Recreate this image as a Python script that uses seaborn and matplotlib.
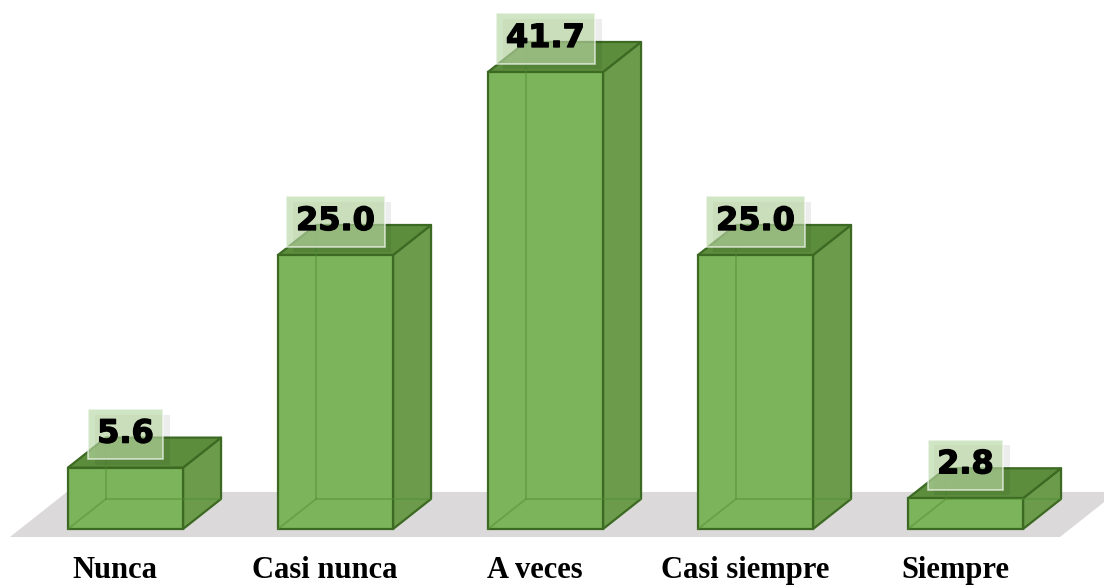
import matplotlib
matplotlib.use("Agg")
import matplotlib.pyplot as plt
import matplotlib.transforms as mtransforms
import matplotlib.patheffects as pe
import seaborn as sns
import pandas as pd

# Survey answer frequencies (%)
categories = ["Nunca", "Casi nunca", "A veces", "Casi siempre", "Siempre"]
values = [5.6, 25.0, 41.7, 25.0, 2.8]

FRONT = "#7bb45a"
TOP = "#5c8d3c"
SIDE = "#6b9b4b"
EDGE = "#3d6a23"
FLOOR = "#dbd9da"
LABEL_BOX = "#b8d7a3"

BAR_W = 0.548
DX, DY = 0.181, 2.74  # depth of each box (x in category units, y in %)

sns.set_theme(style="white")
plt.rcParams["font.family"] = ["DejaVu Sans"]

fig = plt.figure(figsize=(11.04, 5.85), dpi=100)
ax = fig.add_axes([0, 37 / 585, 1, 548 / 585])

df = pd.DataFrame({"categoria": categories, "porcentaje": values})

sns.barplot(data=df, x="categoria", y="porcentaje", color=FRONT,
            saturation=1, width=BAR_W, edgecolor=EDGE, linewidth=1.6,
            ax=ax, zorder=3)

# floor under the boxes
fx0, fx1 = -0.55, 4.45
fy0, fy1 = -0.73, 3.38
fdx = 0.271
ax.fill([fx0, fx1, fx1 + fdx, fx0 + fdx], [fy0, fy0, fy1, fy1],
        color=FLOOR, lw=0, zorder=1)

cat_shift = mtransforms.offset_copy(ax.transData, fig=fig, x=-7.5, y=0,
                                    units="points")

for p, name in zip(ax.containers[0], categories):
    x0 = p.get_x()
    w = p.get_width()
    h = p.get_height()
    x1 = x0 + w
    # right side face
    ax.fill([x1, x1 + DX, x1 + DX, x1], [0, DY, h + DY, h],
            facecolor=SIDE, edgecolor=EDGE, lw=1.6, zorder=2,
            joinstyle="round")
    # top face
    ax.fill([x0, x1, x1 + DX, x0 + DX], [h, h, h + DY, h + DY],
            facecolor=TOP, edgecolor=EDGE, lw=1.6, zorder=2,
            joinstyle="round")
    # hidden back edges seen through the box
    ax.plot([x0, x0 + DX, x0 + DX], [0, DY, h + DY], color="#4f8a30",
            lw=1.3, alpha=0.45, zorder=4)
    ax.plot([x0 + DX, x1 + DX], [DY, DY], color="#4f8a30",
            lw=1.3, alpha=0.45, zorder=4)
    # value label with a soft drop shadow
    xc = x0 + w / 2
    yl = h + 3.06
    t = ax.text(xc, yl, f"{h:.1f}", ha="center", va="center", fontsize=23,
                fontweight="bold", color="black", zorder=6,
                path_effects=[pe.withStroke(linewidth=1.0, foreground="black")],
                bbox=dict(boxstyle="square,pad=0.3", fc=LABEL_BOX,
                          ec="white", lw=1.2, alpha=0.65))
    t.get_bbox_patch().set_path_effects([
        pe.SimplePatchShadow(offset=(5, -4), shadow_rgbFace="black",
                             alpha=0.07),
        pe.Normal(),
    ])
    # category name under the floor
    ax.text(xc, -4.47, name, ha="center", va="baseline",
            fontfamily="Liberation Serif", fontweight="bold", fontsize=22,
            color="black", transform=cat_shift, clip_on=False)

ax.set_xlim(-0.5976, 4.6595)
ax.set_ylim(-1.734, 48.27)
ax.set_xlabel("")
ax.set_ylabel("")
ax.set_yticks([])
ax.set_xticks([])
for s in ax.spines.values():
    s.set_visible(False)
ax.set_facecolor("none")

fig.savefig("out.png", dpi=100)
